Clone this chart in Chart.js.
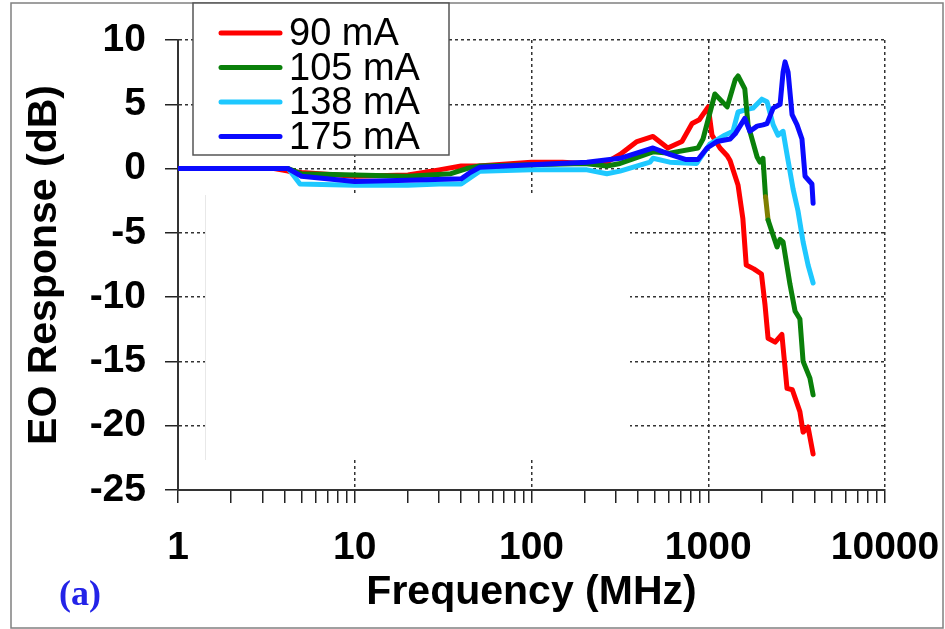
<!DOCTYPE html>
<html>
<head>
<meta charset="utf-8">
<script src="https://cdn.jsdelivr.net/npm/chart.js@4.4.1/dist/chart.umd.min.js"></script>
<style>
  html, body { margin: 0; padding: 0; background: #fff; }
  #wrap { width: 945px; height: 629px; }
</style>
</head>
<body>
<div id="wrap"><canvas id="eoChart" width="945" height="629"></canvas></div>
<script>
// labels / colours
const seriesLabels = ['90 mA', '105 mA', '138 mA', '175 mA'];
const seriesColors = ['#ff0000', '#0a800a', '#1ec8ff', '#0a0aff'];

// values (frequency in MHz, response in dB)
const freq90 = [1, 3.5, 4.2, 5, 10, 20, 30, 40, 50, 100, 150, 200, 267, 317, 395, 487, 590, 710, 810, 890, 1000, 1050, 1165, 1280, 1330, 1475, 1570, 1640, 1810, 2000, 2095, 2180, 2390, 2610, 2790, 2990, 3300, 3440, 3670, 3920];
const db90 = [0, 0, -0.2, -0.3, -0.6, -0.5, -0.1, 0.2, 0.2, 0.5, 0.5, 0.4, 0.5, 1.1, 2.1, 2.5, 1.6, 2.1, 3.5, 3.8, 4.8, 2.6, 1.6, 1.0, 0.6, -1.3, -3.9, -7.5, -7.8, -8.2, -10.6, -13.2, -13.5, -12.9, -17.1, -17.2, -18.9, -20.5, -20.1, -22.2];

const freq105 = [1, 4.2, 5, 10, 20, 35, 43, 51, 100, 200, 267, 317, 487, 605, 875, 934, 1090, 1280, 1420, 1475, 1610, 1680, 1890, 1960, 2040, 2110, 2180, 2450, 2550, 2650, 2900, 3100, 3300, 3440, 3760, 3920];
const db105 = [0, 0, -0.4, -0.5, -0.6, -0.4, 0.0, 0.2, 0.3, 0.4, 0.2, 0.4, 1.3, 1.2, 1.6, 2.3, 5.8, 4.8, 6.9, 7.2, 6.2, 3.4, 0.9, 0.5, 0.8, -2.2, -4.0, -6.1, -5.5, -5.7, -9.0, -11.1, -11.7, -15.0, -16.3, -17.6];
const olive105 = 25; // index of the point where the short olive piece of the 105 mA trace starts (2110 MHz)

const freq138 = [1, 4.2, 4.9, 10, 20, 30, 40, 51, 100, 206, 267, 317, 468, 487, 605, 860, 1020, 1240, 1380, 1475, 1660, 1790, 2010, 2150, 2330, 2480, 2650, 2790, 3020, 3220, 3440, 3670, 3920];
const db138 = [0, 0, -1.2, -1.3, -1.3, -1.2, -1.2, -0.2, -0.1, -0.1, -0.4, -0.2, 0.5, 0.8, 0.5, 0.4, 1.9, 2.6, 2.9, 4.4, 4.6, 4.7, 5.4, 5.2, 3.4, 2.6, 2.9, 1.1, -1.6, -3.3, -5.7, -7.5, -8.9];

const freq175 = [1, 4.2, 5, 10, 20, 40, 45, 51, 100, 206, 317, 487, 605, 750, 875, 985, 1120, 1330, 1420, 1610, 1720, 1890, 2040, 2150, 2330, 2550, 2650, 2720, 2830, 2980, 3180, 3390, 3530, 3860, 3920];
const db175 = [0, 0, -0.6, -1.0, -0.9, -0.8, -0.3, 0.1, 0.3, 0.5, 0.8, 1.6, 1.1, 0.7, 0.7, 1.6, 2.1, 2.3, 2.7, 3.9, 2.9, 3.3, 3.4, 3.5, 4.7, 5.0, 7.5, 8.3, 7.5, 4.2, 3.4, 2.3, -0.6, -1.2, -2.7];

// axes
const xMajorTicks = [1, 10, 100, 1000, 10000];
const xMinorSteps = [2, 3, 4, 5, 6, 7, 8, 9];
const yTicks = [10, 5, 0, -5, -10, -15, -20, -25];

const toPoints = (fs, vs) => fs.map((f, i) => ({ x: f, y: vs[i] }));

const FONT = '"Liberation Sans", Arial, sans-serif';
const ctx = document.getElementById('eoChart').getContext('2d');

// box legend drawn over the top left corner, like the original figure
const boxLegend = {
    id: 'boxLegend',
    afterDraw(chart) {
        const c = chart.ctx;
        c.save();
        // outer frame of the figure
        c.strokeStyle = '#808080';
        c.lineWidth = 1.5;
        c.strokeRect(11, 3, 932, 625);

        // legend box
        c.fillStyle = '#fff';
        c.fillRect(193, 3, 256, 152);
        c.strokeStyle = '#555';
        c.lineWidth = 1.5;
        c.strokeRect(193, 3, 256, 152);

        c.font = '38px ' + FONT;
        c.textBaseline = 'middle';
        c.textAlign = 'left';
        chart.data.datasets.forEach((ds, i) => {
            const y = 33 + i * 34.5;
            c.strokeStyle = ds.borderColor;
            c.lineWidth = 5;
            c.lineCap = 'round';
            c.beginPath();
            c.moveTo(221, y);
            c.lineTo(280, y);
            c.stroke();
            c.fillStyle = '#000';
            c.fillText(ds.label, 289, y + 2);
        });

        // panel tag
        c.fillStyle = '#2323e8';
        c.font = 'bold 36px "Liberation Serif", "Times New Roman", serif';
        c.fillText('(a)', 59, 596);
        c.restore();
    }
};

// the original has a white patch over part of the grid
const whitePatch = {
    id: 'whitePatch',
    beforeDatasetsDraw(chart) {
        const c = chart.ctx;
        c.save();
        c.fillStyle = '#fff';
        c.fillRect(205, 195, 425, 265);
        c.strokeStyle = '#e8e8e8';
        c.lineWidth = 1;
        c.beginPath();
        c.moveTo(205.5, 195);
        c.lineTo(205.5, 460);
        c.stroke();
        c.restore();
    }
};

const makeSet = (i, fs, vs, order) => ({
    label: seriesLabels[i],
    data: toPoints(fs, vs),
    borderColor: seriesColors[i],
    backgroundColor: seriesColors[i],
    borderWidth: 5,
    pointRadius: 0,
    tension: 0,
    borderJoinStyle: 'round',
    borderCapStyle: 'round',
    order: order
});

const set105 = makeSet(1, freq105, db105, 1);
set105.segment = {
    borderColor: (s) => s.p0DataIndex === olive105 ? '#7f7f00' : undefined
};

const eoChart = new Chart(ctx, {
    type: 'line',
    data: {
        datasets: [
            makeSet(0, freq90, db90, 3),
            set105,
            makeSet(2, freq138, db138, 2),
            makeSet(3, freq175, db175, 0)
        ]
    },
    options: {
        responsive: false,
        animation: false,
        layout: { padding: { left: 0, top: 40, right: 60, bottom: 0 } },
        plugins: {
            legend: { display: false },
            tooltip: { enabled: false }
        },
        scales: {
            x: {
                type: 'logarithmic',
                min: 1,
                max: 10000,
                afterFit: (scale) => {
                    scale.height = 139;
                    scale.paddingLeft = 0;
                    scale.paddingRight = 0;
                },
                afterBuildTicks: (scale) => {
                    const t = [];
                    xMajorTicks.forEach((d, k) => {
                        t.push({ value: d });
                        if (k < xMajorTicks.length - 1) xMinorSteps.forEach(m => t.push({ value: m * d }));
                    });
                    scale.ticks = t;
                },
                ticks: {
                    autoSkip: false,
                    maxRotation: 0,
                    padding: 22,
                    color: '#000',
                    font: { family: FONT, size: 39, weight: 'bold' },
                    callback: (v) => xMajorTicks.includes(v) ? String(v) : ''
                },
                grid: {
                    color: (c) => c.tick && xMajorTicks.includes(c.tick.value) ? '#333' : 'rgba(0,0,0,0)',
                    lineWidth: 1.5,
                    tickLength: 13,
                    tickColor: '#222',
                    tickWidth: 1.5
                },
                border: { display: true, color: '#333', width: 2, dash: [3, 3] },
                title: {
                    display: true,
                    text: 'Frequency (MHz)',
                    color: '#000',
                    font: { family: FONT, size: 41, weight: 'bold' },
                    padding: { top: 0, bottom: 12 }
                }
            },
            y: {
                min: -25,
                max: 10,
                afterFit: (scale) => {
                    scale.width = 178;
                    scale.paddingTop = 0;
                    scale.paddingBottom = 0;
                },
                afterBuildTicks: (scale) => {
                    scale.ticks = yTicks.map(v => ({ value: v }));
                },
                ticks: {
                    padding: 19,
                    color: '#000',
                    font: { family: FONT, size: 39, weight: 'bold' }
                },
                grid: {
                    color: '#333',
                    lineWidth: 1.5,
                    tickLength: 13,
                    tickColor: '#222',
                    tickWidth: 1.5
                },
                border: { display: true, color: '#333', width: 2, dash: [3, 3] },
                title: {
                    display: true,
                    text: 'EO Response (dB)',
                    color: '#000',
                    font: { family: FONT, size: 41, weight: 'bold' },
                    padding: { top: 20, bottom: 0 }
                }
            }
        }
    },
    plugins: [whitePatch, boxLegend]
});
</script>
</body>
</html>
